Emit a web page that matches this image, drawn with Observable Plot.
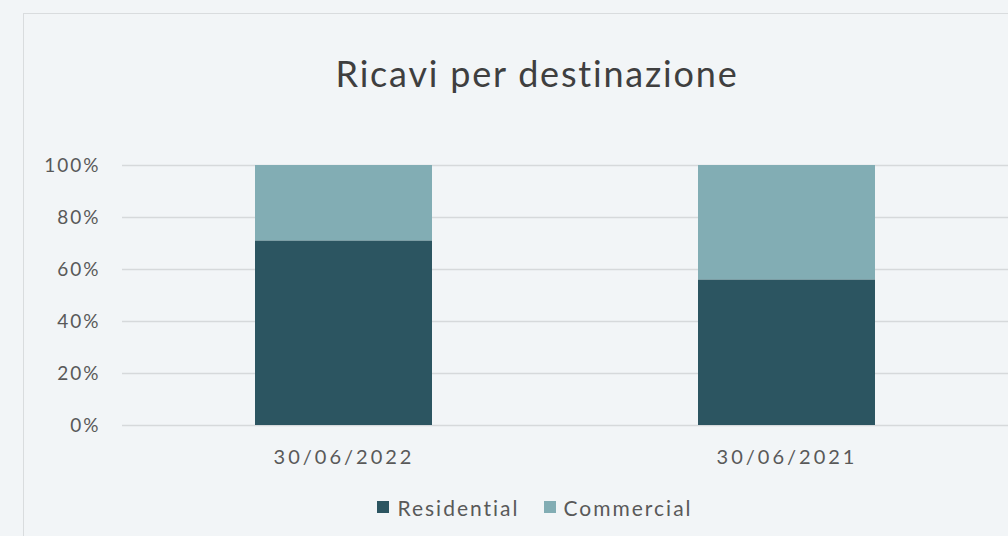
<!DOCTYPE html>
<html>
<head>
<meta charset="utf-8">
<script src="https://cdn.jsdelivr.net/npm/d3@7"></script>
<script src="https://cdn.jsdelivr.net/npm/@observablehq/plot@0.6"></script>
<style>
  html, body { margin: 0; padding: 0; background: #f2f5f7; }
  body { width: 1008px; height: 536px; position: relative; overflow: hidden; font-family: Lato, "Open Sans", sans-serif; }
  #frame { position: absolute; left: 23px; top: 13px; width: 1100px; height: 600px; border-left: 1.5px solid #d9dcde; border-top: 1.5px solid #d9dcde; box-sizing: border-box; }
  #title { position: absolute; left: 0; width: 1074px; top: 51px; text-align: center; font-size: 36px; color: #3f3f3f; letter-spacing: 1.8px; }
  #chart { position: absolute; left: 0; top: 140px; }
  #legend { position: absolute; left: 0; width: 1070px; top: 492px; text-align: center; font-size: 21px; color: #595959; letter-spacing: 2px; }
  .item { display: inline-flex; align-items: center; margin: 0 12px; }
  .sw { display: inline-block; width: 12px; height: 12px; margin-right: 8px; }
  #chart g[aria-label="x-axis tick label"] text { letter-spacing: 3px; }
  #chart g[aria-label="y-axis tick label"] text { letter-spacing: 2px; }
</style>
</head>
<body>
<div id="frame"></div>
<div id="title">Ricavi per destinazione</div>
<div id="chart"></div>
<div id="legend"></div>
<script>
const dates = ["30/06/2022", "30/06/2021"];
const series = ["Residential", "Commercial"];
const residential = [71, 56];
const commercial = [29, 44];
const colors = ["#2c5561", "#82adb4"];
const yTicks = [0, 20, 40, 60, 80, 100];

const data = [];
dates.forEach((d, i) => {
  data.push({date: d, type: series[0], value: residential[i]});
  data.push({date: d, type: series[1], value: commercial[i]});
});

const chart = Plot.plot({
  width: 1008,
  height: 340,
  marginTop: 25,
  marginBottom: 55,
  marginLeft: 122,
  marginRight: 0,
  style: {background: "transparent", fontFamily: "Lato, 'Open Sans', sans-serif", fontSize: "20px", color: "#595959"},
  x: {domain: dates, paddingInner: 0.6, paddingOuter: 0.3, label: null},
  y: {domain: [0, 100], label: null},
  color: {domain: series, range: colors},
  marks: [
    Plot.ruleY(yTicks, {stroke: "#d6d9db", strokeWidth: 1.5, strokeOpacity: 1}),
    Plot.barY(data, {x: "date", y: "value", fill: "type", order: series}),
    Plot.axisX({tickSize: 0, tickPadding: 24, fontSize: 20, fill: "#595959", label: null}),
    Plot.axisY({ticks: yTicks, tickFormat: d => d + "%", tickSize: 0, tickPadding: 22, fontSize: 19, fill: "#595959", label: null})
  ]
});
document.getElementById("chart").appendChild(chart);

const legend = document.getElementById("legend");
series.forEach((s, i) => {
  const item = document.createElement("span");
  item.className = "item";
  const sw = document.createElement("span");
  sw.className = "sw";
  sw.style.background = colors[i];
  item.appendChild(sw);
  item.appendChild(document.createTextNode(s));
  legend.appendChild(item);
});
</script>
</body>
</html>
